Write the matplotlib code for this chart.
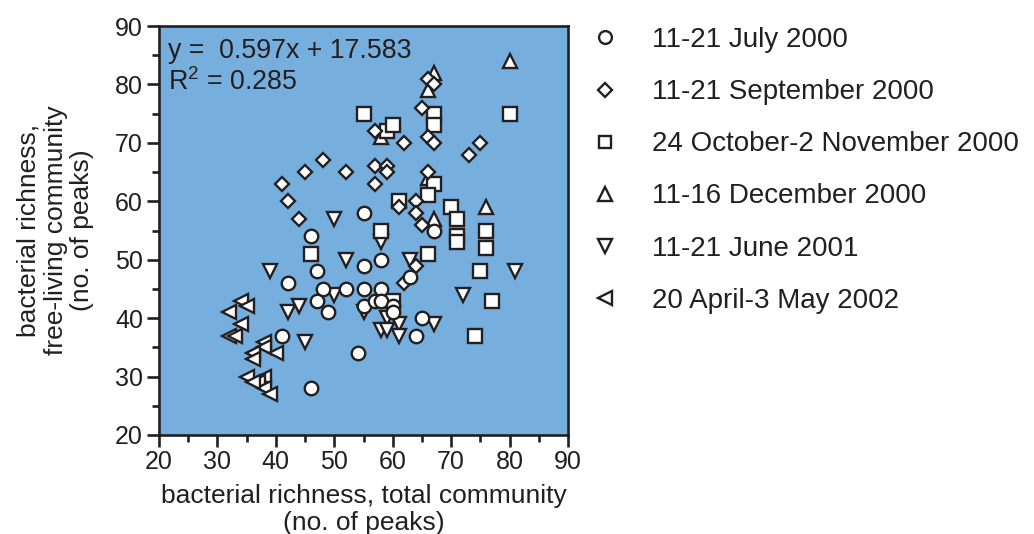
import matplotlib
matplotlib.use("Agg")
import matplotlib.pyplot as plt

plt.rcParams['font.family'] = ['Liberation Sans', 'DejaVu Sans']
plt.rcParams['mathtext.fontset'] = 'custom'
plt.rcParams['mathtext.rm'] = 'Liberation Sans'
plt.rcParams['mathtext.it'] = 'Liberation Sans:italic'

TXT = "#231F20"
BG = "#76AEDD"

# 11-21 July 2000 (circles)
jul00_x = [46, 47, 42, 48, 52, 55, 47, 49, 55, 41, 54, 46, 55, 58, 55, 58, 57, 58, 60, 60, 63, 65, 64, 67]
jul00_y = [54, 48, 46, 45, 45, 45, 43, 41, 42, 37, 34, 28, 58, 50, 49, 45, 43, 43, 42, 41, 47, 40, 37, 55]

# 11-21 September 2000 (diamonds)
sep00_x = [48, 45, 52, 41, 42, 44, 57, 57, 59, 59, 57, 62, 66, 67, 65, 66, 67, 66, 61, 64, 64, 65, 73, 75, 62, 64]
sep00_y = [67, 65, 65, 63, 60, 57, 72, 66, 66, 65, 63, 70, 71, 70, 76, 81, 80, 65, 59, 60, 58, 56, 68, 70, 46, 49]

# 24 October-2 November 2000 (squares)
oct00_x = [46, 55, 59, 60, 67, 67, 67, 66, 61, 70, 71, 71, 71, 76, 76, 58, 66, 75, 77, 74, 80, 60]
oct00_y = [51, 75, 72, 73, 75, 73, 63, 61, 60, 59, 57, 54, 53, 55, 52, 55, 51, 48, 43, 37, 75, 43]

# 11-16 December 2000 (up triangles)
dec00_x = [67, 66, 58, 66, 67, 76, 80]
dec00_y = [82, 79, 71, 64, 57, 59, 84]

# 11-21 June 2001 (down triangles)
jun01_x = [50, 39, 52, 50, 42, 44, 45, 58, 63, 55, 59, 61, 58, 59, 61, 67, 72, 81]
jun01_y = [57, 48, 50, 44, 41, 42, 36, 53, 50, 41, 40, 39, 38, 38, 37, 39, 44, 48]

# 20 April-3 May 2002 (left triangles)
apr02_x = [34, 35, 32, 34, 32, 33, 38, 38, 40, 36, 36, 35, 38, 37, 38, 39, 36]
apr02_y = [43, 42, 41, 39, 37, 37, 36, 35, 34, 34, 33, 30, 30, 29, 28, 27, 29]

fig = plt.figure(figsize=(10.34, 5.34), dpi=100)
ax = fig.add_axes([0.1538, 0.1854, 0.3955, 0.7659])
ax.set_facecolor(BG)

style = dict(linestyle='none', markerfacecolor='white', markeredgecolor=TXT, markeredgewidth=1.7)
h_apr, = ax.plot(apr02_x, apr02_y, marker='<', markersize=10.5, label="20 April-3 May 2002", **style)
h_jun, = ax.plot(jun01_x, jun01_y, marker='v', markersize=10.5, label="11-21 June 2001", **style)
h_dec, = ax.plot(dec00_x, dec00_y, marker='^', markersize=10.5, label="11-16 December 2000", **style)
h_oct, = ax.plot(oct00_x, oct00_y, marker='s', markersize=9.5, label="24 October-2 November 2000", **style)
h_sep, = ax.plot(sep00_x, sep00_y, marker='D', markersize=7.6, label="11-21 September 2000", **style)
h_jul, = ax.plot(jul00_x, jul00_y, marker='o', markersize=9.7, label="11-21 July 2000", **style)

ax.set_xlim(20, 90)
ax.set_ylim(20, 90)
ax.set_xticks(range(20, 91, 10))
ax.set_yticks(range(20, 91, 10))
ax.set_xticks(range(25, 90, 10), minor=True)
ax.set_yticks(range(25, 90, 10), minor=True)
ax.tick_params(which='major', direction='out', length=8.5, width=1.9, color=TXT,
               labelsize=18, labelcolor=TXT)
ax.tick_params(which='minor', direction='out', length=5, width=1.9, color=TXT)
ax.tick_params(axis='x', which='major', pad=2.5)
ax.tick_params(axis='y', which='major', pad=3)
for sp in ax.spines.values():
    sp.set_linewidth(1.9)
    sp.set_color(TXT)

# regression text
ax.text(0.022, 0.922, "y =  0.597x + 17.583", transform=ax.transAxes,
        fontsize=19.3, color=TXT, va='baseline', ha='left')
ax.text(0.022, 0.8435, "R$^2$ = 0.285", transform=ax.transAxes,
        fontsize=19.3, color=TXT, va='baseline', ha='left')

ax.set_xlabel("bacterial richness, total community\n(no. of peaks)",
              fontsize=19, color=TXT, linespacing=1.15)
ax.xaxis.set_label_coords(0.5, -0.12)
ax.set_ylabel("bacterial richness,\nfree-living community\n(no. of peaks)",
              fontsize=19, color=TXT, linespacing=1.15)
ax.yaxis.set_label_coords(-0.158, 0.5)

fig.legend(handles=[h_jul, h_sep, h_oct, h_dec, h_jun, h_apr],
           loc='upper left', bbox_to_anchor=(0.561, 0.970), borderaxespad=0,
           frameon=False, fontsize=20, markerscale=0.95, handlelength=1.0,
           handletextpad=1.19, labelspacing=0.94, labelcolor=TXT)

fig.savefig("out.png", dpi=100)
